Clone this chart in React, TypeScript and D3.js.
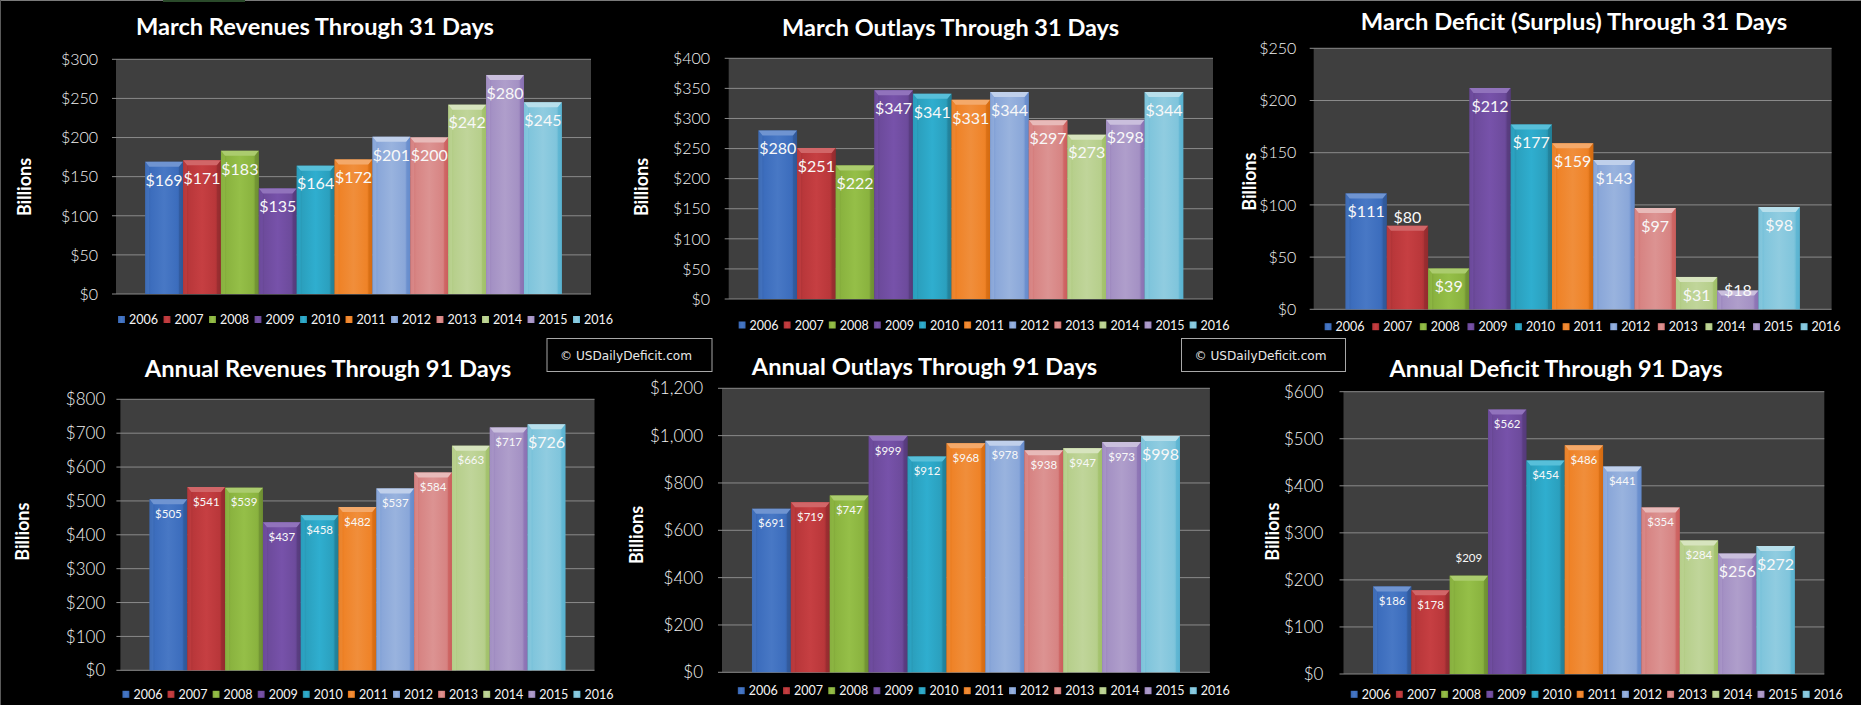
import React from 'react';
import * as d3 from 'd3';

const years = ['2006', '2007', '2008', '2009', '2010', '2011', '2012', '2013', '2014', '2015', '2016'];
const marchRevenues = [169, 171, 183, 135, 164, 172, 201, 200, 242, 280, 245];
const marchOutlays = [280, 251, 222, 347, 341, 331, 344, 297, 273, 298, 344];
const marchDeficit = [111, 80, 39, 212, 177, 159, 143, 97, 31, 18, 98];
const annualRevenues = [505, 541, 539, 437, 458, 482, 537, 584, 663, 717, 726];
const annualOutlays = [691, 719, 747, 999, 912, 968, 978, 938, 947, 973, 998];
const annualDeficit = [186, 178, 209, 562, 454, 486, 441, 354, 284, 256, 272];
const titles = [
  'March Revenues Through 31 Days',
  'March Outlays Through 31 Days',
  'March Deficit (Surplus) Through 31 Days',
  'Annual Revenues Through 91 Days',
  'Annual Outlays Through 91 Days',
  'Annual Deficit Through 91 Days',
];
const yMax = [300, 400, 250, 800, 1200, 600];
const yStep = [50, 50, 50, 100, 200, 100];
const seriesList = [marchRevenues, marchOutlays, marchDeficit, annualRevenues, annualOutlays, annualDeficit];
const axisTitle = 'Billions';
const credit = '\u00A9 USDailyDeficit.com';

const palette = ['#3c6dbd', '#b9373a', '#8ab33f', '#6d4b9c', '#2ba0be', '#ef8328', '#8aa7d9', '#d78483', '#b7cf8c', '#a491c4', '#80c5dc'];

// layout (positions / sizes), kept apart from data
const layouts = [
  { l: 116, r: 591, t: 59.3, b: 294, tx: 315, ty: 35, tw: 358, tickR: 98, bx: 24.5, by: 187, lx: 118, ls: 45.5, ly: 319.5, tickFs: 16, smallLbl: [] as number[], dyOver: {} as Record<number, number> },
  { l: 728.7, r: 1213, t: 58.3, b: 299, tx: 950.6, ty: 36, tw: 337, tickR: 710, bx: 641.7, by: 187, lx: 738.6, ls: 45.1, ly: 325, tickFs: 16, smallLbl: [], dyOver: {} },
  { l: 1313.7, r: 1831.6, t: 48.3, b: 309.3, tx: 1574, ty: 30, tw: 426.5, tickR: 1296.4, bx: 1250, by: 181.7, lx: 1324.6, ls: 47.6, ly: 326.7, tickFs: 16, smallLbl: [], dyOver: { 1: -9, 9: 0 } },
  { l: 120.4, r: 594.5, t: 399.3, b: 670.3, tx: 328, ty: 377, tw: 366.4, tickR: 105.3, bx: 22.4, by: 531.7, lx: 122.4, ls: 45.1, ly: 694.3, tickFs: 17, smallLbl: [0, 1, 2, 3, 4, 5, 6, 7, 8, 9], dyOver: {} },
  { l: 722, r: 1209.9, t: 388.3, b: 672.3, tx: 924.5, ty: 375, tw: 345.5, tickR: 703, bx: 636.6, by: 535, lx: 737.8, ls: 45.2, ly: 690.7, tickFs: 17, smallLbl: [0, 1, 2, 3, 4, 5, 6, 7, 8, 9], dyOver: {} },
  { l: 1343.5, r: 1824.3, t: 391.7, b: 674, tx: 1556, ty: 377, tw: 333, tickR: 1323.4, bx: 1272.3, by: 531.7, lx: 1350.7, ls: 45.2, ly: 694.3, tickFs: 17, smallLbl: [0, 1, 2, 3, 4, 5, 6, 7, 8], dyOver: { 2: -18.3 } },
];

const creditBoxes = [
  { x: 547, y: 338.5, w: 165, h: 33 },
  { x: 1181.5, y: 338.5, w: 164, h: 33 },
];

const FONT = 'Lato, "Open Sans", sans-serif';

function shade(c: string, k: number) {
  const col = d3.hsl(c);
  col.l = Math.max(0, Math.min(1, col.l + k));
  return col.formatHex();
}

function Chart({ idx }: { idx: number }) {
  const L = layouts[idx];
  const values = seriesList[idx];
  const y = d3.scaleLinear().domain([0, yMax[idx]]).range([L.b, L.t]);
  const x = d3.scaleBand<string>().domain(years).range([L.l, L.r]).paddingInner(0).paddingOuter(0.77);
  const ticks = d3.range(0, yMax[idx] + 1, yStep[idx]);
  const fmt = d3.format('$,');
  const bw = x.bandwidth();
  return (
    <g>
      <rect x={L.l} y={L.t} width={L.r - L.l} height={L.b - L.t} fill="#3f3f3f" />
      {ticks.map((t) => (
        <g key={t}>
          <line x1={L.l - 4} x2={L.r} y1={y(t)} y2={y(t)} stroke="#8a8a8a" strokeWidth={1} />
          <text x={L.tickR} y={y(t)} dy="0.36em" textAnchor="end" fill="#f2f2f2" fontSize={L.tickFs} fontFamily={FONT} fontWeight={300}>
            {fmt(t)}
          </text>
        </g>
      ))}
      {values.map((v, i) => {
        const x0 = x(years[i]) as number;
        const top = y(v);
        const bot = y(0);
        const c = palette[i];
        const bev = Math.min(5, (bot - top) / 2);
        return (
          <g key={i}>
            <rect x={x0} y={top} width={bw} height={bot - top} fill={`url(#bar${i})`} />
            <polygon points={`${x0},${top} ${x0 + bw},${top} ${x0 + bw - 4},${top + bev} ${x0 + 4},${top + bev}`} fill={shade(c, 0.14)} />
            <polygon points={`${x0},${top} ${x0 + 4},${top + bev} ${x0 + 4},${bot} ${x0},${bot}`} fill={shade(c, 0.04)} opacity={0.6} />
            <polygon points={`${x0 + bw},${top} ${x0 + bw - 4},${top + bev} ${x0 + bw - 4},${bot} ${x0 + bw},${bot}`} fill={shade(c, -0.1)} opacity={0.6} />
          </g>
        );
      })}
      {values.map((v, i) => {
        const small = L.smallLbl.includes(i);
        const fs = small ? 11.5 : 16;
        const dyC = L.dyOver[i] !== undefined ? L.dyOver[i] : small ? 14.5 : 18;
        const cx = (x(years[i]) as number) + bw / 2;
        return (
          <text key={'l' + i} x={cx} y={y(v) + dyC} dy="0.36em" textAnchor="middle" fill="#f8f8f8" fontSize={fs} fontFamily={FONT}>
            {'$' + v}
          </text>
        );
      })}
      <text x={L.tx} y={L.ty} textAnchor="middle" fill="#ffffff" fontSize={22} fontWeight={700} fontFamily={FONT} textLength={L.tw} lengthAdjust="spacingAndGlyphs">
        {titles[idx]}
      </text>
      <text transform={`translate(${L.bx},${L.by}) rotate(-90)`} dy="0.36em" textAnchor="middle" fill="#ffffff" fontSize={18} fontWeight={700} fontFamily={FONT}>
        {axisTitle}
      </text>
      {years.map((yr, i) => {
        const lx = L.lx + i * L.ls;
        return (
          <g key={'lg' + yr}>
            <rect x={lx} y={L.ly - 3.5} width={7} height={7} fill={`url(#bar${i})`} />
            <text x={lx + 11} y={L.ly} dy="0.36em" fill="#f4f4f4" fontSize={12.5} fontFamily={FONT}>
              {yr}
            </text>
          </g>
        );
      })}
    </g>
  );
}

export default function App() {
  return (
    <svg width={1861} height={705} style={{ position: 'absolute', left: 0, top: 0, background: '#000' }}>
      <defs>
        {palette.map((c, i) => (
          <linearGradient key={i} id={`bar${i}`} x1="0" x2="1" y1="0" y2="0">
            <stop offset="0" stopColor={shade(c, -0.08)} />
            <stop offset="0.15" stopColor={c} />
            <stop offset="0.5" stopColor={shade(c, 0.04)} />
            <stop offset="0.85" stopColor={c} />
            <stop offset="1" stopColor={shade(c, -0.1)} />
          </linearGradient>
        ))}
      </defs>
      <rect x={0} y={0} width={1861} height={705} fill="#000" />
      <line x1={0} x2={1861} y1={0.5} y2={0.5} stroke="#7a7a7a" />
      <line x1={0.5} x2={0.5} y1={0} y2={705} stroke="#5a5a5a" />
      <rect x={163} y={0} width={82} height={2} fill="#2a4a2a" />
      {layouts.map((_, i) => (
        <Chart key={i} idx={i} />
      ))}
      {creditBoxes.map((b, i) => (
        <g key={'cb' + i}>
          <rect x={b.x} y={b.y} width={b.w} height={b.h} fill="#000" stroke="#a8a8a8" strokeWidth={1} />
          <text x={b.x + 13} y={b.y + b.h / 2} dy="0.36em" fill="#e8e8e8" fontSize={12.5} fontFamily='"DejaVu Sans", Verdana, sans-serif' textLength={132} lengthAdjust="spacingAndGlyphs">
            {credit}
          </text>
        </g>
      ))}
    </svg>
  );
}
